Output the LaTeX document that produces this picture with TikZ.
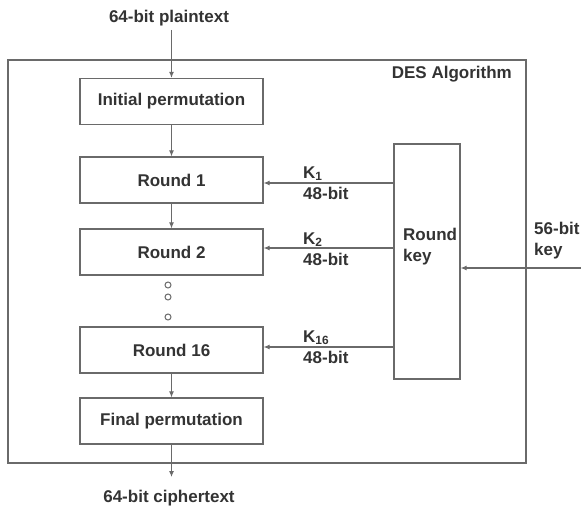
\documentclass[tikz,border=0pt]{standalone}
\usepackage{fontspec}
\setmainfont{Liberation Sans}
\usetikzlibrary{arrows.meta}
\definecolor{lnc}{HTML}{6A6A6A}
\definecolor{txc}{HTML}{333333}
\tikzset{
  txt/.style={font=\fontsize{17}{21}\selectfont\bfseries, text=txc, inner sep=1pt},
  stagebox/.style={draw=lnc, line width=1.2pt, minimum width=183pt, minimum height=46pt, font=\fontsize{17}{21}\selectfont\bfseries, text=txc},
  arr/.style={draw=lnc, line width=1.1pt, -{Latex[length=6pt,width=5pt]}},
  dotc/.style={draw=lnc, line width=1pt}
}
\begin{document}
\begin{tikzpicture}[x=1pt,y=-1pt]
\useasboundingbox (0,0) rectangle (581,508);
\fill[white] (0,0) rectangle (581,508);
% outer box
\draw[draw=lnc, line width=1.2pt] (8,60) rectangle (526,463);
\node[txt, anchor=east] (des) at (513,74) {DES Algorithm};
% stages
\node[stagebox] (ip) at (171.5,101.5) {Initial permutation};
\node[stagebox] (r1) at (171.5,180) {Round 1};
\node[stagebox] (r2) at (171.5,252) {Round 2};
\node[stagebox] (r16) at (171.5,350) {Round 16};
\node[stagebox] (fp) at (171.5,421) {Final permutation};
% in/out
\node[txt] (pt) at (169,18) {64-bit plaintext};
\node[txt] (ct) at (169,498) {64-bit ciphertext};
\coordinate (ptend) at (0,30);
\coordinate (ctend) at (0,477);
\draw[arr] (ip.north |- ptend) -- (ip.north);
\draw[arr] (ip) -- (r1);
\draw[arr] (r1) -- (r2);
\draw[arr] (r16) -- (fp);
\draw[arr] (fp.south) -- (fp.south |- ctend);
% dots
\node[dotc, circle, minimum size=6pt, inner sep=0pt] (d1) at (168,285) {};
\node[dotc, circle, minimum size=6pt, inner sep=0pt] (d2) at (168,297) {};
\node[dotc, circle, minimum size=6pt, inner sep=0pt] (d3) at (168,317) {};
% round key
\node[draw=lnc, line width=1.2pt, minimum width=66pt, minimum height=235pt] (rk) at (427,261.5) {};
\node[txt, anchor=north west, align=left] (rkt) at (402,227) {Round\\key};
% key input
\coordinate (kin) at (581,268);
\node[txt, anchor=north west, align=left] (kk) at (533,221) {56-bit\\key};
\draw[arr] (kin) -- (rk.east |- kin);
% subkeys
\coordinate (a1) at (0,183);
\coordinate (a2) at (0,248);
\coordinate (a16) at (0,347);
\draw[arr] (rk.west |- a1) -- (r1.east |- a1);
\draw[arr] (rk.west |- a2) -- (r2.east |- a2);
\draw[arr] (rk.west |- a16) -- (r16.east |- a16);
\node[txt, anchor=west, align=left] (k1) at (302,183) {K\textsubscript{1}\\48-bit};
\node[txt, anchor=west, align=left] (k2) at (302,249) {K\textsubscript{2}\\48-bit};
\node[txt, anchor=west, align=left] (k16) at (302,347) {K\textsubscript{16}\\48-bit};
\end{tikzpicture}
\end{document}
